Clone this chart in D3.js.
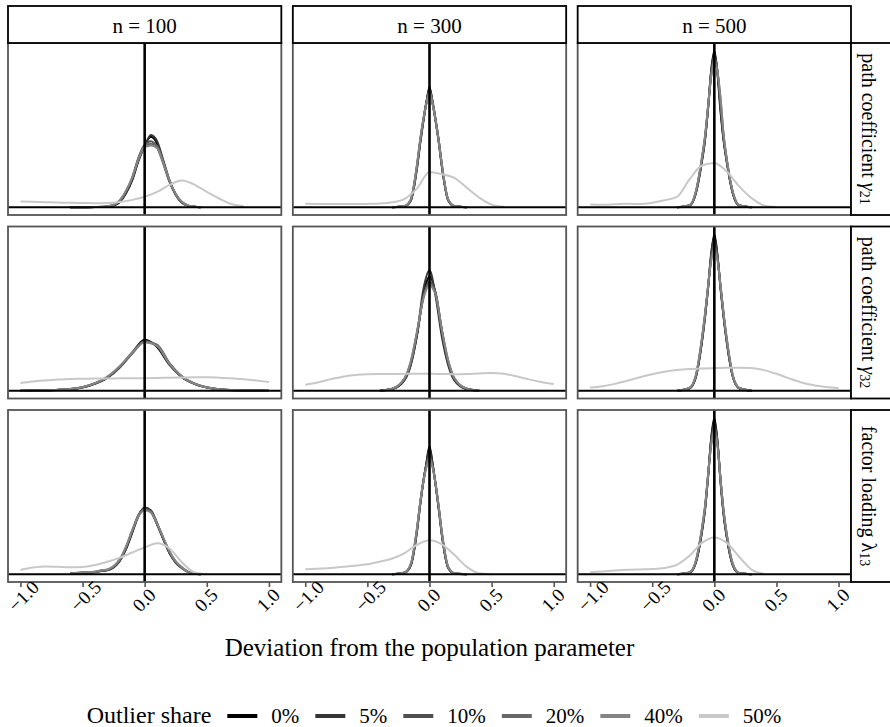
<!DOCTYPE html>
<html>
<head>
<meta charset="utf-8">
<script src="https://cdn.jsdelivr.net/npm/d3@7"></script>
<style>
  body { margin: 0; background: #fff; }
  text { font-family: "Liberation Serif", "DejaVu Serif", serif; fill: #000; }
</style>
</head>
<body>
<svg id="chart" width="890" height="727"></svg>
<script>
// facet labels
const sampleSizes = ["n = 100", "n = 300", "n = 500"];
const paramNames = ["path coefficient ", "path coefficient ", "factor loading "];
const paramSymbols = ["γ", "γ", "λ"];
const paramSubs = ["21", "32", "13"];
const shares = ["0%", "5%", "10%", "20%", "40%", "50%"];
const xTicks = [-1, -0.5, 0, 0.5, 1];

// x grids the densities were read on
const gridN100 = [-0.6, -0.5, -0.4, -0.35, -0.3, -0.25, -0.2, -0.15, -0.1, -0.05, 0, 0.05, 0.1, 0.15, 0.2, 0.25, 0.3, 0.35, 0.4, 0.45];
const gridWide = [-1.0, -0.8, -0.6, -0.5, -0.4, -0.3, -0.2, -0.1, 0, 0.1, 0.2, 0.3, 0.4, 0.5, 0.6, 0.8, 1.0];
const gridMid = [-0.4, -0.3, -0.2, -0.15, -0.1, -0.05, 0, 0.05, 0.1, 0.15, 0.2, 0.3, 0.4];
const gridNarrow = [-0.3, -0.2, -0.15, -0.1, -0.075, -0.05, -0.025, 0, 0.025, 0.05, 0.075, 0.1, 0.15, 0.2, 0.3];
const gridLight = [-1.0, -0.9, -0.8, -0.7, -0.6, -0.5, -0.4, -0.3, -0.2, -0.1, 0, 0.1, 0.2, 0.3, 0.4, 0.5, 0.6, 0.7, 0.8, 0.9, 1.0];

// gamma21, n = 100 (0%, 5%, 10%, 20%, 40% on gridN100; 50% on gridLight)
const g21n100 = [
  [0, 0, 0.005, 0.01, 0.03, 0.10, 0.30, 0.80, 1.55, 2.70, 3.55, 4.05, 3.65, 2.60, 1.50, 0.75, 0.28, 0.09, 0.02, 0],
  [0, 0, 0.005, 0.01, 0.03, 0.12, 0.33, 0.85, 1.60, 2.65, 3.50, 4.15, 3.80, 2.70, 1.55, 0.72, 0.26, 0.08, 0.02, 0],
  [0, 0, 0.005, 0.01, 0.04, 0.13, 0.36, 0.90, 1.70, 2.85, 3.60, 3.80, 3.45, 2.50, 1.45, 0.70, 0.27, 0.09, 0.02, 0],
  [0, 0, 0.005, 0.02, 0.05, 0.14, 0.38, 0.92, 1.68, 2.80, 3.55, 3.65, 3.50, 2.60, 1.52, 0.74, 0.29, 0.09, 0.02, 0],
  [0, 0, 0.01, 0.02, 0.05, 0.15, 0.40, 0.95, 1.72, 2.75, 3.45, 3.55, 3.40, 2.55, 1.55, 0.78, 0.31, 0.10, 0.03, 0]
];
const g21n100Light = [0.33, 0.31, 0.29, 0.27, 0.25, 0.24, 0.23, 0.24, 0.30, 0.42, 0.60, 0.88, 1.28, 1.53, 1.30, 0.88, 0.50, 0.18, 0.04, null, null];

// gamma21, n = 300 (gridNarrow)
const g21n300 = [
  [0, 0.06, 0.40, 2.35, 3.75, 4.95, 6.00, 6.93, 6.00, 4.95, 3.75, 2.35, 0.40, 0.06, 0],
  [0, 0.05, 0.38, 2.25, 3.65, 4.90, 6.05, 6.80, 6.10, 5.00, 3.80, 2.40, 0.42, 0.06, 0],
  [0, 0.06, 0.42, 2.40, 3.80, 5.00, 6.05, 6.75, 5.95, 4.90, 3.70, 2.30, 0.40, 0.05, 0],
  [0, 0.07, 0.45, 2.45, 3.85, 5.05, 6.00, 6.65, 6.00, 5.00, 3.80, 2.40, 0.44, 0.07, 0],
  [0, 0.07, 0.46, 2.50, 3.90, 5.05, 5.95, 6.60, 5.95, 4.95, 3.80, 2.45, 0.46, 0.07, 0]
];
const g21n300Light = [0.20, 0.19, 0.18, 0.18, 0.18, 0.19, 0.21, 0.28, 0.48, 1.08, 2.03, 1.90, 1.68, 1.12, 0.55, 0.15, 0.02, null, null, null, null];

// gamma21, n = 500 (gridNarrow)
const g21n500 = [
  [0, 0.10, 0.80, 2.70, 3.90, 5.70, 7.90, 9.00, 7.70, 5.50, 3.80, 2.60, 0.75, 0.10, 0],
  [0, 0.09, 0.75, 2.60, 3.85, 5.80, 7.80, 8.85, 7.85, 5.70, 3.90, 2.65, 0.78, 0.10, 0],
  [0, 0.10, 0.82, 2.75, 4.00, 5.75, 7.65, 8.70, 7.80, 5.80, 4.00, 2.70, 0.80, 0.11, 0],
  [0, 0.11, 0.85, 2.80, 4.05, 5.80, 7.60, 8.55, 7.85, 6.20, 4.10, 2.75, 0.82, 0.12, 0],
  [0, 0.12, 0.88, 2.85, 4.10, 5.85, 7.55, 8.40, 7.80, 6.30, 4.15, 2.80, 0.85, 0.12, 0]
];
const g21n500Light = [0.15, 0.14, 0.17, 0.20, 0.18, 0.26, 0.40, 0.60, 1.60, 2.40, 2.55, 2.05, 1.20, 0.52, 0.10, 0.01, null, null, null, null, null];

// gamma32, n = 100 (gridWide)
const g32n100 = [
  [0, 0.02, 0.07, 0.16, 0.34, 0.64, 1.15, 1.85, 2.48, 2.12, 1.25, 0.66, 0.34, 0.16, 0.07, 0.01, 0],
  [0, 0.02, 0.07, 0.15, 0.33, 0.62, 1.12, 1.82, 2.42, 2.20, 1.32, 0.68, 0.33, 0.15, 0.06, 0.01, 0],
  [0, 0.02, 0.08, 0.17, 0.36, 0.66, 1.18, 1.86, 2.40, 2.16, 1.28, 0.66, 0.33, 0.16, 0.07, 0.01, 0],
  [0, 0.02, 0.08, 0.17, 0.35, 0.65, 1.16, 1.80, 2.38, 2.24, 1.34, 0.70, 0.35, 0.16, 0.07, 0.01, 0],
  [0, 0.02, 0.08, 0.18, 0.37, 0.68, 1.20, 1.84, 2.36, 2.18, 1.30, 0.68, 0.34, 0.17, 0.07, 0.01, 0]
];
const g32n100Light = [0.37, 0.45, 0.50, 0.54, 0.57, 0.58, 0.59, 0.59, 0.60, 0.60, 0.61, 0.62, 0.63, 0.64, 0.65, 0.65, 0.63, 0.60, 0.55, 0.49, 0.42];

// gamma32, n = 300 (gridMid)
const g32n300 = [
  [0, 0.08, 0.55, 1.30, 2.70, 4.60, 5.55, 4.70, 2.80, 1.35, 0.55, 0.08, 0],
  [0, 0.08, 0.52, 1.25, 2.75, 4.90, 5.85, 4.55, 2.60, 1.25, 0.50, 0.07, 0],
  [0, 0.09, 0.58, 1.35, 2.80, 4.55, 5.30, 4.75, 2.90, 1.40, 0.58, 0.09, 0],
  [0, 0.09, 0.60, 1.40, 2.85, 4.50, 5.20, 4.70, 2.95, 1.45, 0.60, 0.09, 0],
  [0, 0.10, 0.62, 1.45, 2.90, 4.45, 5.10, 4.65, 2.95, 1.50, 0.62, 0.10, 0]
];
const g32n300Light = [0.29, 0.40, 0.55, 0.68, 0.76, 0.80, 0.81, 0.81, 0.82, 0.82, 0.82, 0.81, 0.80, 0.81, 0.84, 0.86, 0.82, 0.70, 0.55, 0.42, 0.32];

// gamma32, n = 500 (gridNarrow)
const g32n500 = [
  [0, 0.12, 0.65, 2.40, 3.60, 5.00, 6.60, 7.60, 6.60, 5.00, 3.60, 2.40, 0.65, 0.12, 0],
  [0, 0.11, 0.62, 2.35, 3.55, 5.05, 6.70, 7.45, 6.55, 4.95, 3.55, 2.35, 0.66, 0.12, 0],
  [0, 0.12, 0.66, 2.45, 3.65, 5.05, 6.50, 7.20, 6.50, 5.05, 3.65, 2.45, 0.68, 0.13, 0],
  [0, 0.13, 0.70, 2.50, 3.70, 5.10, 6.40, 7.00, 6.45, 5.10, 3.70, 2.50, 0.70, 0.13, 0],
  [0, 0.14, 0.72, 2.55, 3.75, 5.10, 6.30, 6.85, 6.35, 5.10, 3.75, 2.55, 0.72, 0.14, 0]
];
const g32n500Light = [0.15, 0.22, 0.33, 0.48, 0.65, 0.80, 0.92, 1.00, 1.05, 1.08, 1.10, 1.12, 1.12, 1.10, 1.00, 0.82, 0.60, 0.40, 0.26, 0.18, 0.13];

// lambda13, n = 100 (gridN100)
const l13n100 = [
  [0.02, 0.08, 0.12, 0.18, 0.22, 0.38, 0.75, 1.40, 2.30, 3.20, 3.60, 3.40, 2.70, 1.90, 1.15, 0.65, 0.35, 0.12, 0.02, 0],
  [0.02, 0.08, 0.11, 0.17, 0.21, 0.36, 0.72, 1.35, 2.25, 3.15, 3.62, 3.48, 2.78, 1.92, 1.15, 0.62, 0.32, 0.11, 0.02, 0],
  [0.02, 0.09, 0.12, 0.19, 0.23, 0.40, 0.78, 1.45, 2.35, 3.18, 3.55, 3.42, 2.75, 1.95, 1.20, 0.66, 0.34, 0.12, 0.02, 0],
  [0.03, 0.09, 0.13, 0.20, 0.24, 0.42, 0.80, 1.48, 2.38, 3.20, 3.52, 3.38, 2.72, 1.95, 1.22, 0.68, 0.36, 0.13, 0.03, 0],
  [0.03, 0.10, 0.13, 0.21, 0.25, 0.44, 0.82, 1.50, 2.40, 3.15, 3.48, 3.35, 2.75, 2.00, 1.25, 0.70, 0.37, 0.13, 0.03, 0]
];
const l13n100Light = [0.23, 0.36, 0.42, 0.40, 0.38, 0.39, 0.50, 0.68, 0.90, 1.18, 1.45, 1.68, 1.40, 0.65, 0.10, 0.0, null, null, null, null, null];

// lambda13, n = 300 (gridNarrow)
const l13n300 = [
  [0, 0.08, 0.50, 2.40, 3.80, 5.00, 6.05, 6.95, 6.00, 4.80, 3.50, 2.10, 0.35, 0.04, 0],
  [0, 0.08, 0.48, 2.35, 3.75, 5.00, 6.00, 6.80, 6.00, 4.85, 3.55, 2.15, 0.36, 0.04, 0],
  [0, 0.09, 0.52, 2.45, 3.85, 5.05, 5.95, 6.45, 5.90, 4.85, 3.60, 2.20, 0.38, 0.05, 0],
  [0, 0.10, 0.55, 2.50, 3.85, 5.00, 5.85, 6.35, 5.85, 4.85, 3.60, 2.25, 0.40, 0.05, 0],
  [0, 0.10, 0.58, 2.55, 3.90, 5.00, 5.80, 6.25, 5.80, 4.85, 3.65, 2.25, 0.42, 0.06, 0]
];
const l13n300Light = [0.27, 0.30, 0.34, 0.40, 0.46, 0.54, 0.68, 0.85, 1.15, 1.60, 1.85, 1.62, 1.05, 0.40, 0.05, 0.0, null, null, null, null, null];

// lambda13, n = 500 (gridNarrow)
const l13n500 = [
  [0, 0.08, 0.60, 2.30, 3.50, 5.30, 7.40, 8.50, 7.20, 5.00, 3.20, 2.00, 0.45, 0.05, 0],
  [0, 0.08, 0.62, 2.30, 3.55, 5.40, 7.35, 8.30, 7.25, 5.10, 3.30, 2.05, 0.48, 0.05, 0],
  [0, 0.09, 0.65, 2.40, 3.60, 5.40, 7.20, 8.05, 7.20, 5.15, 3.35, 2.10, 0.50, 0.06, 0],
  [0, 0.10, 0.68, 2.45, 3.65, 5.40, 7.10, 7.90, 7.10, 5.15, 3.40, 2.15, 0.52, 0.06, 0],
  [0, 0.10, 0.70, 2.50, 3.70, 5.40, 7.00, 7.75, 7.00, 5.15, 3.45, 2.20, 0.55, 0.07, 0]
];
const l13n500Light = [0.10, 0.15, 0.20, 0.24, 0.26, 0.28, 0.34, 0.52, 1.00, 1.70, 2.00, 1.70, 0.95, 0.25, 0.02, null, null, null, null, null, null];

// panel table: rows = parameters, columns = sample sizes
const panels = [
  [[gridN100, g21n100, g21n100Light], [gridNarrow, g21n300, g21n300Light], [gridNarrow, g21n500, g21n500Light]],
  [[gridWide, g32n100, g32n100Light], [gridMid, g32n300, g32n300Light], [gridNarrow, g32n500, g32n500Light]],
  [[gridN100, l13n100, l13n100Light], [gridNarrow, l13n300, l13n300Light], [gridNarrow, l13n500, l13n500Light]]
];

const colors = ["#000000", "#353535", "#505050", "#686868", "#858585", "#c8c8c8"];

const svg = d3.select("#chart");
const plotLeft = 8, plotRight = 851, plotTop = 43, plotBottom = 582, gap = 11.5;
const pw = (plotRight - plotLeft - 2 * gap) / 3;
const ph = (plotBottom - plotTop - 2 * gap) / 3;

function curvesOf(p) {
  const [grid, dark, light] = p;
  const out = dark.map((vals, i) => ({ share: i, pts: grid.map((g, j) => [g, vals[j]]) }));
  out.push({ share: 5, pts: gridLight.map((g, j) => [g, light[j]]) });
  return out;
}

panels.forEach((row, r) => {
  const rowMax = d3.max(row, p => d3.max(curvesOf(p), c => d3.max(c.pts, d => d[1])));
  const y0 = plotTop + r * (ph + gap);
  const y = d3.scaleLinear().domain([-0.05 * rowMax, 1.05 * rowMax]).range([y0 + ph, y0]);

  row.forEach((p, c) => {
    const x0 = plotLeft + c * (pw + gap);
    const x = d3.scaleLinear().domain([-1.1, 1.1]).range([x0, x0 + pw]);
    const g = svg.append("g");

    const line = d3.line()
      .defined(d => d[1] != null)
      .x(d => x(d[0]))
      .y(d => y(d[1]))
      .curve(d3.curveMonotoneX);

    g.selectAll(".dens")
      .data(curvesOf(p))
      .enter()
      .append("path")
      .attr("d", d => line(d.pts))
      .attr("fill", "none")
      .attr("stroke", d => colors[d.share])
      .attr("stroke-width", 2)
      .attr("stroke-linejoin", "round");

    // reference lines
    g.append("line")
      .attr("x1", x0).attr("x2", x0 + pw)
      .attr("y1", y(0)).attr("y2", y(0))
      .attr("stroke", "#000").attr("stroke-width", 2);
    g.append("line")
      .attr("x1", x(0)).attr("x2", x(0))
      .attr("y1", y0).attr("y2", y0 + ph)
      .attr("stroke", "#000").attr("stroke-width", 2.6);

    g.append("rect")
      .attr("x", x0).attr("y", y0)
      .attr("width", pw).attr("height", ph)
      .attr("fill", "none")
      .attr("stroke", "#555").attr("stroke-width", 1.8);

    // top strips
    if (r === 0) {
      svg.append("rect")
        .attr("x", x0).attr("y", 6)
        .attr("width", pw).attr("height", plotTop - 6)
        .attr("fill", "#fff").attr("stroke", "#000").attr("stroke-width", 1.8);
      svg.append("text")
        .attr("x", x0 + pw / 2).attr("y", 26)
        .attr("text-anchor", "middle")
        .attr("dominant-baseline", "central")
        .style("font-size", "21px")
        .text(sampleSizes[c]);
    }

    // bottom axis
    if (r === 2) {
      const ax = svg.append("g")
        .attr("transform", "translate(0," + (y0 + ph) + ")")
        .call(d3.axisBottom(x).tickValues(xTicks).tickSize(5).tickFormat(d3.format(".1f")));
      ax.select(".domain").remove();
      ax.selectAll(".tick line").attr("stroke", "#555").attr("stroke-width", 1.6);
      ax.selectAll(".tick text")
        .attr("x", null).attr("y", null).attr("dy", null)
        .attr("text-anchor", "start")
        .attr("transform", "translate(-5,31) rotate(-45)")
        .style("font-family", "\"Liberation Serif\", serif")
        .style("font-size", "19px")
        .attr("fill", "#222");
    }
  });

  // right strips
  svg.append("rect")
    .attr("x", plotRight).attr("y", y0)
    .attr("width", 45).attr("height", ph)
    .attr("fill", "#fff").attr("stroke", "#000").attr("stroke-width", 1.8);
  const t = svg.append("text")
    .attr("transform", "translate(" + (plotRight + 18) + "," + (y0 + ph / 2) + ") rotate(90)")
    .attr("text-anchor", "middle")
    .attr("dominant-baseline", "central")
    .style("font-size", "20px");
  t.append("tspan").text(paramNames[r]);
  t.append("tspan").style("font-style", paramSymbols[r] === "γ" ? "italic" : "normal").text(paramSymbols[r]);
  t.append("tspan").attr("dy", 4).style("font-size", "14px").text(paramSubs[r]);
});

// axis title
svg.append("text")
  .attr("x", (plotLeft + plotRight) / 2).attr("y", 656)
  .attr("text-anchor", "middle")
  .style("font-size", "25px")
  .text("Deviation from the population parameter");

// legend
const leg = svg.append("g");
const legTitle = leg.append("text").attr("x", 0).attr("y", 0).style("font-size", "24px").text("Outlier share");
let cx = legTitle.node().getComputedTextLength() + 16;
shares.forEach((s, i) => {
  leg.append("line")
    .attr("x1", cx).attr("x2", cx + 30)
    .attr("y1", -7).attr("y2", -7)
    .attr("stroke", colors[i]).attr("stroke-width", 4);
  const lt = leg.append("text").attr("x", cx + 44).attr("y", 0).style("font-size", "21px").text(s);
  cx += 44 + lt.node().getComputedTextLength() + 16;
});
const legW = cx - 16;
leg.attr("transform", "translate(" + (434 - legW / 2) + ",723)");
</script>
</body>
</html>
